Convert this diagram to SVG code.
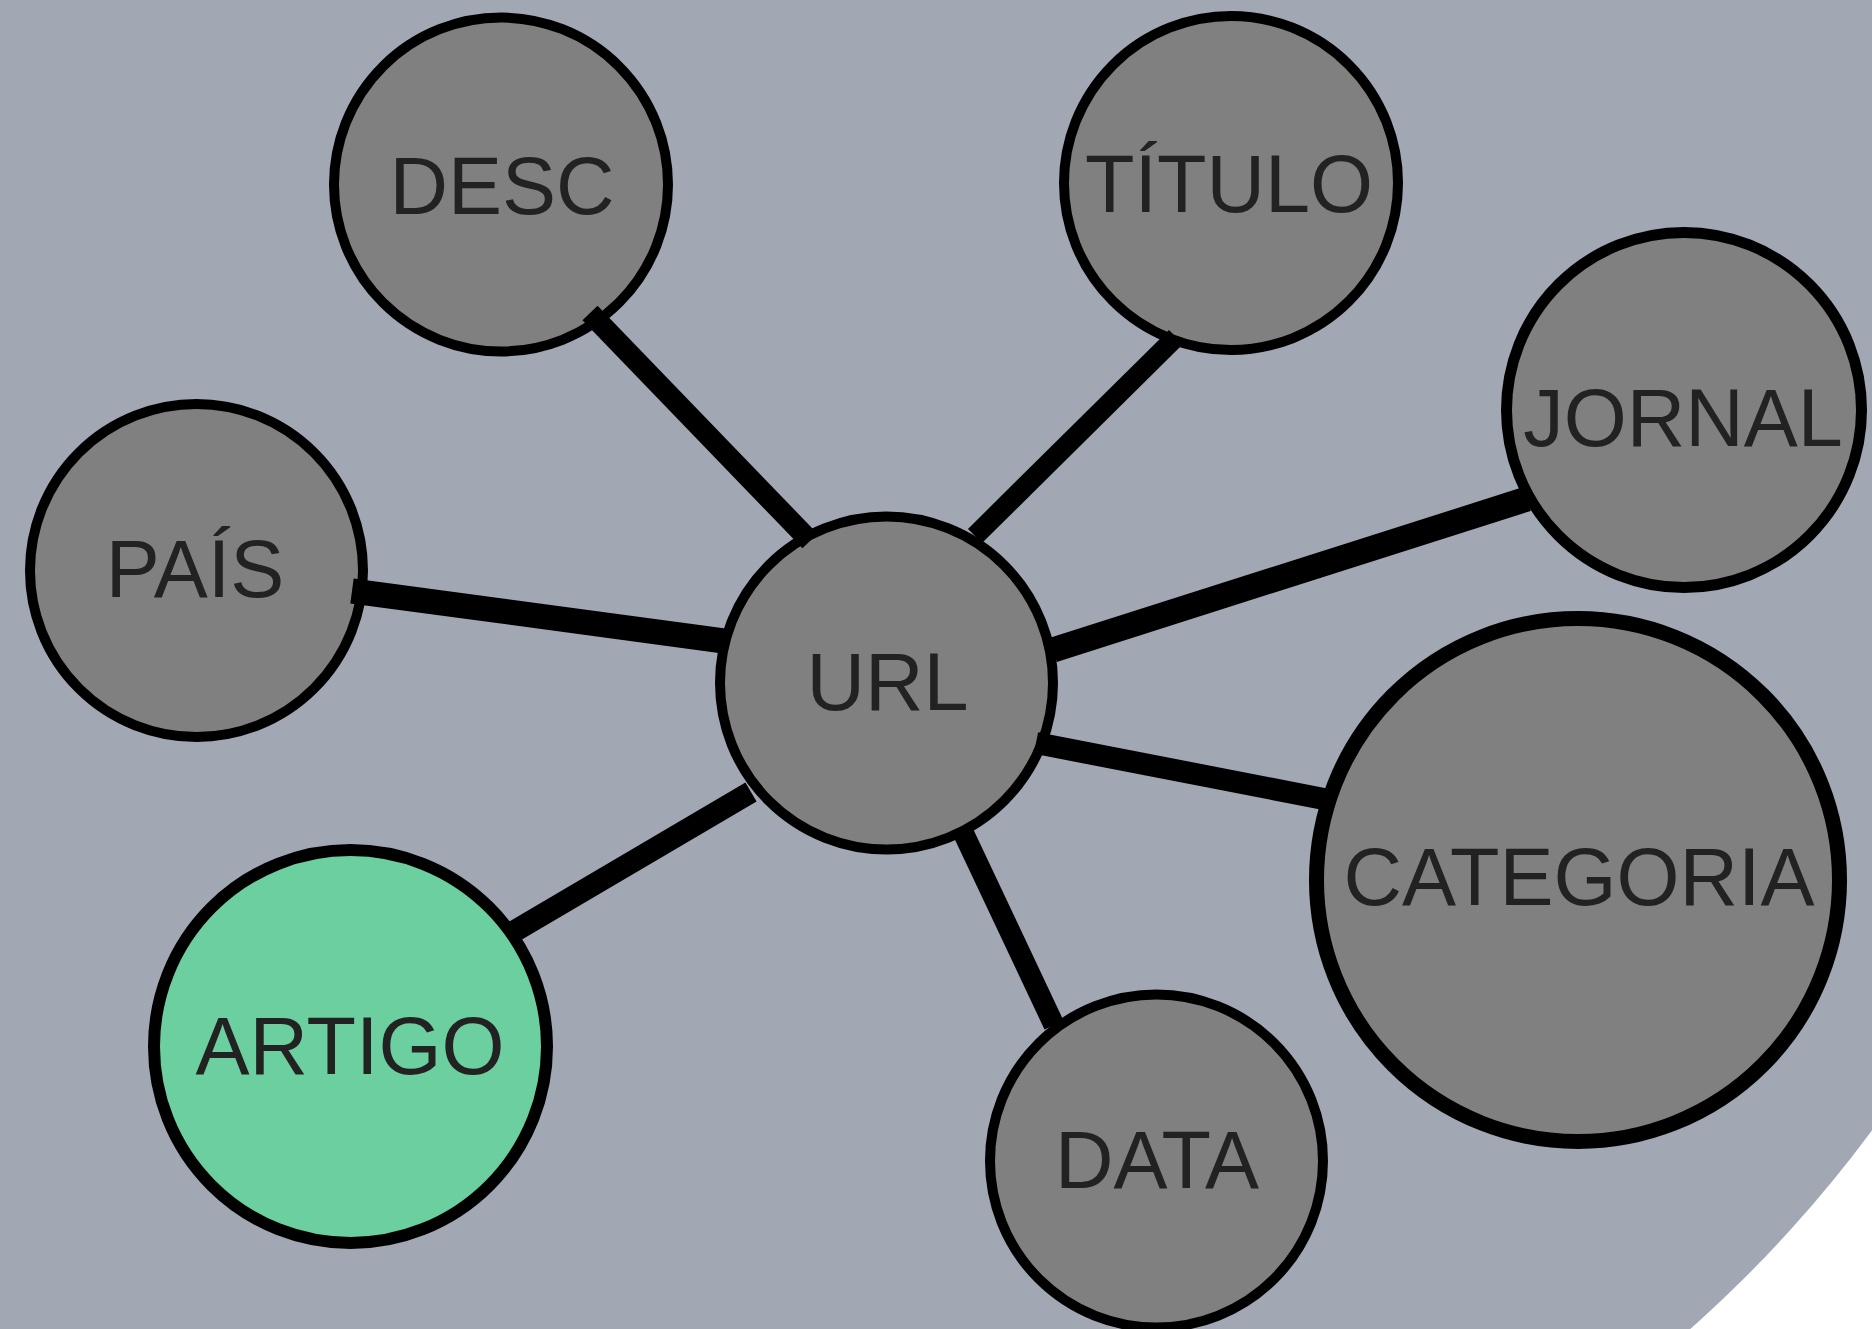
<svg xmlns="http://www.w3.org/2000/svg" width="1872" height="1329" viewBox="0 0 1872 1329">
  <style>
    .node circle { fill: #808080; stroke: #000; stroke-width: 10; }
    .node.root circle { fill: #6ccf9f; stroke-width: 12; }
    .node text { font-family: "Liberation Sans", Arial, sans-serif; font-size: 81px; fill: #222; text-anchor: middle; }
    .links line { stroke: #000; stroke-linecap: butt; }
  </style>
  <rect width="1872" height="1329" fill="#ffffff"/>
  <!-- graph backdrop -->
  <circle cx="827" cy="357" r="1300" fill="#a2a8b3"/>

  <g id="node-desc" class="node"><circle cx="501" cy="184.5" r="167"/><text x="502" y="214">DESC</text></g>
  <g id="node-titulo" class="node"><circle cx="1231" cy="183" r="167"/><text x="1229" y="212">TÍTULO</text></g>
  <g id="node-jornal" class="node"><circle cx="1684" cy="410" r="177.5" style="stroke-width:11"/><text x="1683" y="446">JORNAL</text></g>
  <g id="node-pais" class="node"><circle cx="196.5" cy="570.5" r="166.5"/><text x="195" y="597">PAÍS</text></g>
  <g id="node-url" class="node"><circle cx="886.5" cy="683" r="166.5"/><text x="887.5" y="710">URL</text></g>
  <g id="node-artigo" class="node root"><circle cx="350.5" cy="1046.5" r="196.5"/><text x="350" y="1074">ARTIGO</text></g>
  <g id="node-data" class="node"><circle cx="1156.5" cy="1161" r="166.5"/><text x="1157" y="1188">DATA</text></g>
  <g id="node-categoria" class="node"><circle cx="1578" cy="880" r="261.5" style="stroke-width:15"/><text x="1579" y="905">CATEGORIA</text></g>

  <g id="links" class="links">
    <line x1="590" y1="313" x2="810" y2="541" stroke-width="21"/>
    <line x1="1176" y1="337" x2="975" y2="536" stroke-width="20"/>
    <line x1="352" y1="591" x2="724" y2="641" stroke-width="25"/>
    <line x1="1053" y1="650" x2="1527" y2="499" stroke-width="25"/>
    <line x1="1036" y1="743" x2="1329" y2="800" stroke-width="22"/>
    <line x1="962" y1="830" x2="1054" y2="1025" stroke-width="21"/>
    <line x1="513" y1="932" x2="751" y2="792" stroke-width="22"/>
  </g>
</svg>
